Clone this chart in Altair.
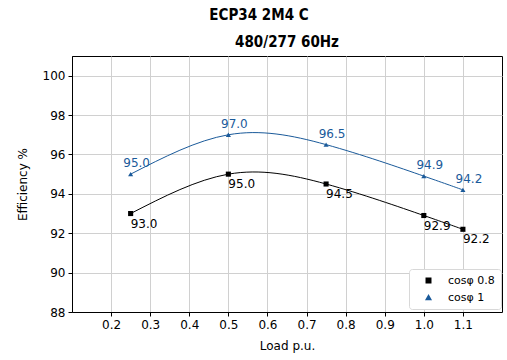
import altair as alt
import pandas as pd

# Efficiency curves of the ECP34 2M4 C alternator, 480/277 V 60 Hz
load = [0.25, 0.5, 0.75, 1.0, 1.1]
eff_pf08 = [93.0, 95.0, 94.5, 92.9, 92.2]
eff_pf1 = [95.0, 97.0, 96.5, 94.9, 94.2]
series_names = ["cosφ 0.8", "cosφ 1"]
series_colors = ["#000000", "#1a5a9a"]
series_shapes = ["square", "triangle-up"]

x_ticks = [0.2, 0.3, 0.4, 0.5, 0.6, 0.7, 0.8, 0.9, 1.0, 1.1]
y_ticks = [88, 90, 92, 94, 96, 98, 100]

rows = []
for name, values in zip(series_names, [eff_pf08, eff_pf1]):
    for x, y in zip(load, values):
        rows.append({"load": x, "eff": y, "series": name, "label": f"{y:.1f}"})
df = pd.DataFrame(rows)

x_enc = alt.X(
    "load:Q",
    scale=alt.Scale(domain=[0.1, 1.2], nice=False, zero=False),
    axis=alt.Axis(values=x_ticks, format=".1f", title="Load p.u.", titlePadding=10),
)
y_enc = alt.Y(
    "eff:Q",
    scale=alt.Scale(domain=[88, 101], nice=False, zero=False),
    axis=alt.Axis(values=y_ticks, format="d", title="Efficiency %", titlePadding=13),
)

legend_style = dict(
    title=None,
    orient="none",
    legendX=337,
    legendY=213,
    direction="vertical",
    labelFont="DejaVu Sans",
    labelFontSize=11,
    labelColor="#000000",
    symbolSize=20,
    symbolOffset=8,
    labelOffset=14,
    rowPadding=5,
    padding=6,
    strokeColor="#d8d8d8",
    fillColor="white",
    cornerRadius=3,
)
color_enc = alt.Color(
    "series:N",
    scale=alt.Scale(domain=series_names, range=series_colors),
    legend=alt.Legend(**legend_style),
)
shape_enc = alt.Shape(
    "series:N",
    scale=alt.Scale(domain=series_names, range=series_shapes),
    legend=alt.Legend(**legend_style),
)

base = alt.Chart(df)

lines = base.mark_line(strokeWidth=1, interpolate="natural").encode(
    x=x_enc, y=y_enc, color=color_enc, detail="series:N"
)

points = base.mark_point(filled=True, opacity=1, size=26).encode(
    x=x_enc, y=y_enc, color=color_enc, shape=shape_enc
)

labels_pf08 = (
    base.transform_filter(alt.datum.series == series_names[0])
    .mark_text(align="left", baseline="alphabetic", dx=0, dy=14, fontSize=12, font="DejaVu Sans")
    .encode(x=x_enc, y=y_enc, text="label:N", color=color_enc)
)
labels_pf1 = (
    base.transform_filter(alt.datum.series == series_names[1])
    .mark_text(align="center", baseline="alphabetic", dx=6, dy=-7, fontSize=12, font="DejaVu Sans")
    .encode(x=x_enc, y=y_enc, text="label:N", color=color_enc)
)

title = alt.Chart(pd.DataFrame({"t": ["ECP34 2M4 C"]})).mark_text(
    font="DejaVu Sans Condensed", fontWeight="bold", fontSize=15, align="center", baseline="alphabetic", color="#000000"
).encode(x=alt.value(187), y=alt.value(-36), text="t:N")

subtitle = alt.Chart(pd.DataFrame({"t": ["480/277 60Hz"]})).mark_text(
    font="DejaVu Sans Condensed", fontWeight="bold", fontSize=15, align="center", baseline="alphabetic", color="#000000"
).encode(x=alt.value(215), y=alt.value(-9), text="t:N")

chart = (
    alt.layer(lines, points, labels_pf08, labels_pf1, title, subtitle)
    .properties(
        width=430,
        height=256,
        autosize=alt.AutoSizeParams(type="none"),
        padding={"left": 72, "top": 56, "right": 5, "bottom": 48},
    )
    .configure_view(stroke="#000000", strokeWidth=1)
    .configure_axis(
        labelFont="DejaVu Sans",
        labelFontSize=12,
        labelColor="#000000",
        titleFont="DejaVu Sans",
        titleFontSize=12,
        titleFontWeight="normal",
        titleColor="#000000",
        domainColor="#000000",
        tickColor="#000000",
        tickSize=4,
        labelPadding=3,
        gridColor="#d0d0d0",
        gridWidth=1,
    )
)

chart.save("out.html", embed_options={"renderer": "svg", "actions": False})
